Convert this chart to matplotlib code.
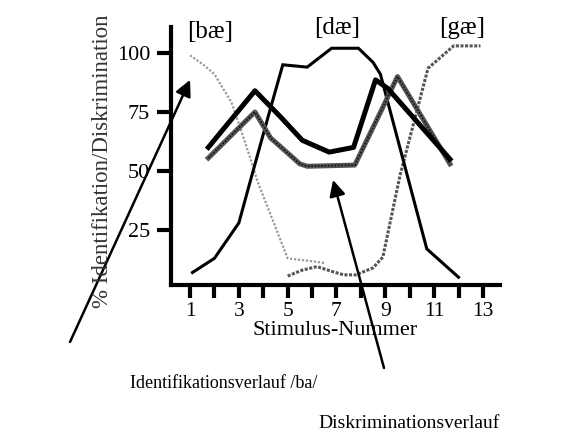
import matplotlib
matplotlib.use('Agg')
import matplotlib.pyplot as plt

plt.rcParams['font.family'] = ['Liberation Serif', 'DejaVu Serif']

# Identifikation [bæ]
ba_x = [1.0, 1.55, 2.0, 2.7, 3.1, 3.45, 3.75, 5.0, 6.2, 6.5]
ba_y = [99, 95, 91, 79, 67, 56, 46, 13, 11.5, 11]

# Identifikation [dæ]
da_x = [1.1, 2.0, 3.0, 3.45, 4.2, 4.8, 5.8, 6.8, 7.9, 8.5, 8.8, 10.7, 12.0]
da_y = [7, 13, 28, 45, 73, 95, 94, 102, 102, 96, 91, 17, 5]

# Identifikation [gæ]
ga_x = [5.0, 5.6, 6.2, 6.8, 7.3, 7.8, 8.5, 8.9, 9.6, 10.75, 11.8, 12.9]
ga_y = [5.5, 8, 9.5, 7.5, 6, 6, 9, 13.5, 48, 93.5, 103, 103]

# Diskrimination (gemessen)
disk_x = [1.75, 3.66, 4.7, 5.6, 6.7, 7.7, 8.6, 9.1, 11.65]
disk_y = [60, 84, 73, 63, 58, 60, 88.6, 85, 55]

# Diskrimination (vorhergesagt)
pred_x = [1.75, 3.66, 4.3, 5.0, 5.5, 5.8, 7.75, 8.9, 9.5, 11.65]
pred_y = [55.5, 75, 64, 57.6, 53, 52, 52.5, 77, 90, 53]

xticks = list(range(1, 14))
xticklabels = [str(t) if t % 2 == 1 else '' for t in xticks]
yticks = [25, 50, 75, 100]

fig = plt.figure(figsize=(5.75, 4.32), dpi=100)
ax = fig.add_axes([171/575, (432-285)/432, 329/575, 258/432])

# Kurven
ax.plot(ba_x, ba_y, color='#999999', lw=1.6, linestyle=(0, (1, 0.8)))
ax.plot(ga_x, ga_y, color='#555555', lw=2.2, linestyle=(0, (1, 0.5)))
ax.plot(da_x, da_y, color='black', lw=2.2, solid_joinstyle='miter')
ax.plot(pred_x, pred_y, color='#555555', lw=3.6)
ax.plot(pred_x, pred_y, color='#111111', lw=1.2, linestyle=(0, (1, 1)))
ax.plot(disk_x, disk_y, color='black', lw=3.6)

ax.set_xlim(0.22, 13.7)
ax.set_ylim(1.7, 111)

ax.spines['top'].set_visible(False)
ax.spines['right'].set_visible(False)
ax.spines['left'].set_linewidth(3)
ax.spines['bottom'].set_linewidth(3)

ax.set_xticks(xticks)
ax.set_xticklabels(xticklabels)
ax.set_yticks(yticks)
ax.tick_params(axis='x', direction='out', length=9, width=3, pad=3, labelsize=15.5)
ax.tick_params(axis='y', direction='out', length=10, width=3, pad=5, labelsize=16)

ax.set_xlabel('Stimulus-Nummer', fontsize=16, labelpad=0)
fig.text(103/575, 1 - 161/432, '% Identifikation/Diskrimination', rotation=90,
         fontsize=16.5, color='#333333', ha='center', va='center')

# Silbenbeschriftungen
fig.text(210/575, 1 - 32/432, '[bæ]', fontsize=18, ha='center', va='center')
fig.text(337/575, 1 - 28/432, '[dæ]', fontsize=18, ha='center', va='center')
fig.text(462/575, 1 - 28/432, '[gæ]', fontsize=18, ha='center', va='center')

# Pfeile mit Erklaerungen
ax.annotate('', xy=(1.0, 88.6), xytext=(70/575, 1 - 342/432), textcoords='figure fraction',
            arrowprops=dict(arrowstyle='-|>', color='black', lw=1.8, mutation_scale=24,
                            shrinkA=0, shrinkB=0))
ax.annotate('', xy=(6.86, 46.2), xytext=(384/575, 1 - 368/432), textcoords='figure fraction',
            arrowprops=dict(arrowstyle='-|>', color='black', lw=1.8, mutation_scale=24,
                            shrinkA=0, shrinkB=0))
fig.text(130/575, 1 - 383/432, 'Identifikationsverlauf /ba/', fontsize=13,
         ha='left', va='center')
fig.text(318/575, 1 - 424/432, 'Diskriminationsverlauf', fontsize=14,
         ha='left', va='center')

fig.savefig('out.png', dpi=100)
